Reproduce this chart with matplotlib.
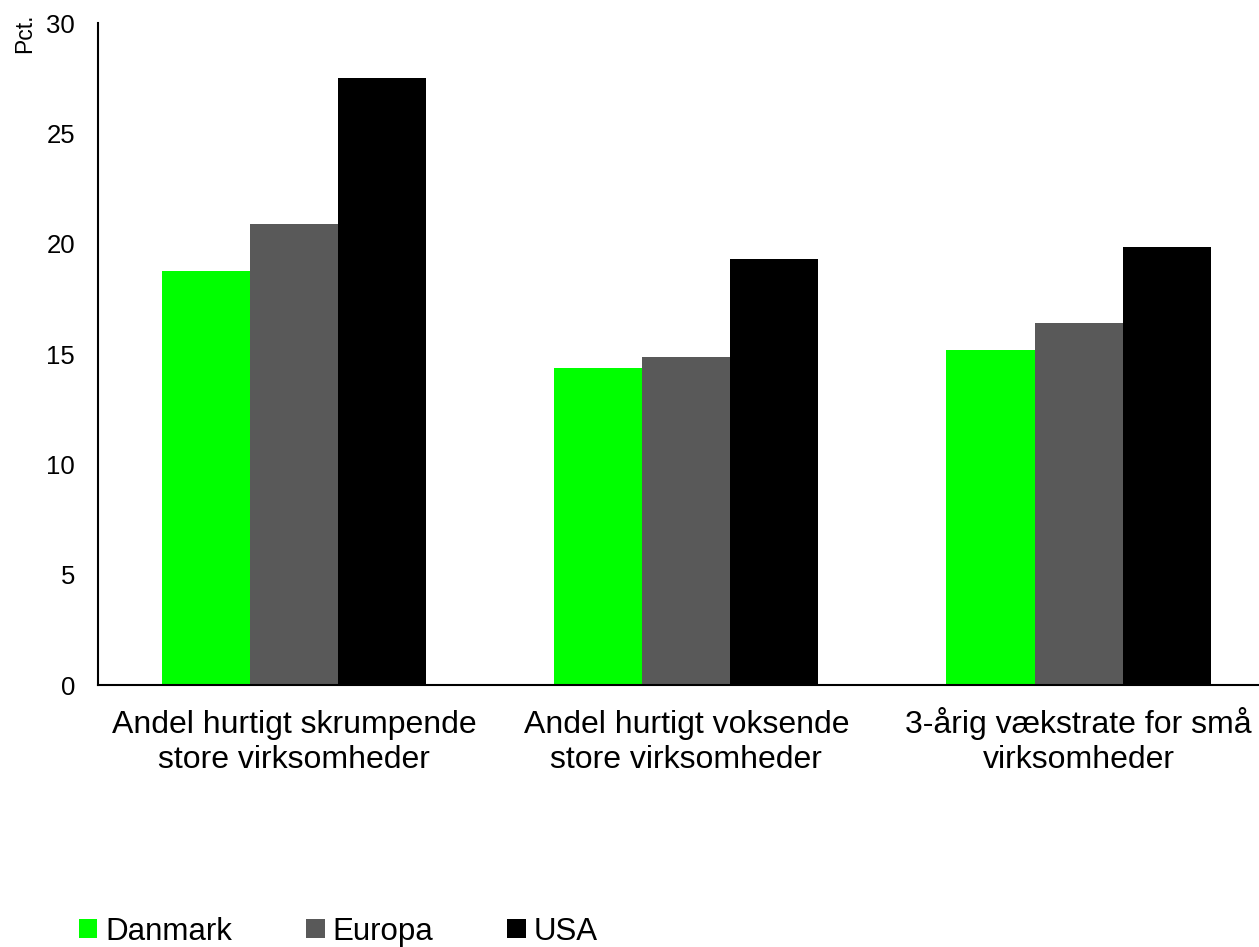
import matplotlib
matplotlib.use("Agg")
import matplotlib.pyplot as plt
import numpy as np

categories = ["Andel hurtigt skrumpende\nstore virksomheder",
              "Andel hurtigt voksende\nstore virksomheder",
              "3-årig vækstrate for små\nvirksomheder"]
series_names = ["Danmark", "Europa", "USA"]
danmark = [18.75, 14.35, 15.2]
europa = [20.9, 14.85, 16.4]
usa = [27.5, 19.3, 19.85]
colors = ["#00FF00", "#595959", "#000000"]

plt.rcParams['font.family'] = ['Liberation Sans', 'DejaVu Sans']

fig = plt.figure(figsize=(12.59, 9.47), dpi=100)
ax = fig.add_axes([98/1259, 1-685/947, 1-98/1259, (685-23)/947])

x = np.arange(len(categories))
w = 0.2245
for i, (vals, name, c) in enumerate(zip([danmark, europa, usa], series_names, colors)):
    ax.bar(x + (i-1)*w, vals, width=w, color=c, label=name)

ax.set_xlim(-0.5, 2.46)
ax.set_ylim(0, 30)
ax.set_yticks(range(0, 31, 5))
ax.set_xticks(x)
ax.set_xticklabels(categories, fontsize=23, va='baseline')
ax.tick_params(axis='y', length=0, labelsize=18.5, pad=16.5)
ax.tick_params(axis='x', length=0, pad=59.8)
for s in ['top', 'right']:
    ax.spines[s].set_visible(False)
for s in ['left', 'bottom']:
    ax.spines[s].set_linewidth(1.5)
    ax.spines[s].set_color('black')

fig.text(25/1259, 1-33/947, "Pct.", rotation=90, fontsize=16.5, ha='center', va='center')

fig.legend(loc='lower left', bbox_to_anchor=(79/1259, 0.0), ncol=3, frameon=False,
           fontsize=22.5, handlelength=0.59, handleheight=0.56, handletextpad=0.26,
           columnspacing=2.36, borderaxespad=0.0, borderpad=0.0)

fig.savefig("out.png", dpi=100)
